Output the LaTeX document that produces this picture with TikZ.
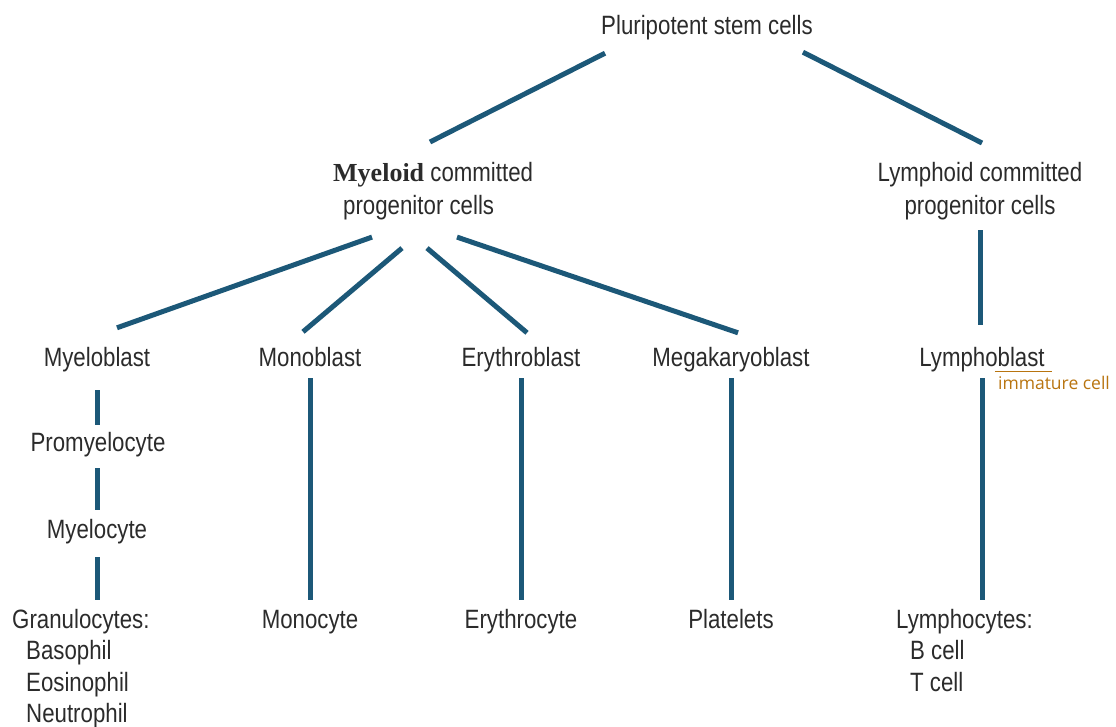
\documentclass[tikz,border=0pt]{standalone}
\usepackage{fontspec}
\newfontfamily\cellfont[FakeStretch=0.84]{Liberation Sans}
\newfontfamily\serifbold{Liberation Serif}
\newfontfamily\notefont{Open Sans}
\usepackage{tikz}
\usetikzlibrary{calc}
\definecolor{linkblue}{HTML}{1C5878}
\definecolor{labelgray}{HTML}{2B2B2B}
\definecolor{notebrown}{HTML}{B8740F}

\begin{document}
\begin{tikzpicture}[x=1pt, y=-1pt,
  cell/.style={font=\cellfont\fontsize{26.5}{31.5}\selectfont, text=labelgray, inner sep=0pt},
  onecell/.style={cell, text height=19pt, text depth=6pt, anchor=base},
  twoline/.style={cell, font=\cellfont\fontsize{26.5}{33}\selectfont},
  link/.style={draw=linkblue, line width=5pt},
  note/.style={draw=notebrown, line width=1.2pt}]
\useasboundingbox (0,0) rectangle (1116,727);

% stem and committed progenitors
\node[onecell] (pluri) at (707,35) {Pluripotent stem cells};
\node[twoline, align=left, anchor=north west] (myeloid) at (333,162)
  {{\serifbold\bfseries\fontsize{26}{33}\selectfont Myeloid} committed\\\hspace*{10pt}progenitor cells};
\node[twoline, align=center, anchor=north] (lymphoid) at (980,162)
  {Lymphoid committed\\progenitor cells};

% blasts
\foreach \name/\x/\txt in {myeloblast/97/Myeloblast,monoblast/310/Monoblast,erythroblast/521/Erythroblast,megakaryoblast/731/Megakaryoblast,lymphoblast/982/Lymphoblast} {
  \node[onecell] (\name) at (\x,366) {\txt};
}
\node[onecell] (promyelocyte) at (98,451) {Promyelocyte};
\node[onecell] (myelocyte) at (97,538) {Myelocyte};

% mature cells
\node[cell, align=left, anchor=north west] (granulocytes) at (12,609)
  {Granulocytes:\\\hspace*{14pt}Basophil\\\hspace*{14pt}Eosinophil\\\hspace*{14pt}Neutrophil};
\foreach \name/\x/\txt in {monocyte/310/Monocyte,erythrocyte/521/Erythrocyte,platelets/731/Platelets} {
  \node[onecell] (\name) at (\x,628) {\txt};
}
\node[cell, align=left, anchor=north west] (lymphocytes) at (896,609)
  {Lymphocytes:\\\hspace*{14pt}B cell\\\hspace*{14pt}T cell};

% branches
\draw[link] ($(pluri.south west)+(4,12)$) -- ($(myeloid.north west)+(97,-20)$);
\draw[link] ($(pluri.south east)+(-10,11)$) -- ($(lymphoid.north)+(2,-19)$);
\draw[link] ($(myeloid.south west)+(39,17)$) -- ($(myeloblast.north)+(20,-19)$);
\draw[link] ($(myeloid.south west)+(69,28)$) -- ($(monoblast.north)+(-7,-15)$);
\draw[link] ($(myeloid.south west)+(94,28)$) -- ($(erythroblast.north)+(6,-14)$);
\draw[link] ($(myeloid.south west)+(124,17)$) -- ($(megakaryoblast.north)+(7,-14)$);
\draw[link, shorten <=10pt, shorten >=22pt] (lymphoid.south) -- (lymphoid.south |- lymphoblast.north);

% maturation lines
\draw[link, shorten <=18pt, shorten >=7pt] (myeloblast.south) -- (myeloblast.south |- promyelocyte.north);
\draw[link, shorten <=11pt, shorten >=9pt] (myeloblast.south |- promyelocyte.south) -- (myeloblast.south |- myelocyte.north);
\draw[link, shorten <=13pt, shorten >=9pt] (myelocyte.south) -- (myelocyte.south |- granulocytes.north);
\foreach \a/\b in {monoblast/monocyte,erythroblast/erythrocyte,megakaryoblast/platelets} {
  \draw[link, shorten <=6pt, shorten >=9pt] (\a.south) -- (\b.north);
}
\draw[link, shorten <=6pt, shorten >=9pt] (lymphoblast.south) -- (lymphoblast.south |- lymphocytes.north);

% handwritten note
\draw[note] ($(lymphoblast.south east)+(-50,-1)$) -- ++(57,0);
\node[anchor=base west, inner sep=0pt, text=notebrown, font=\notefont\fontsize{17.5}{18}\selectfont] (immature)
  at ($(lymphoblast.south east)+(-47,17)$) {immature cell};
\end{tikzpicture}
\end{document}
